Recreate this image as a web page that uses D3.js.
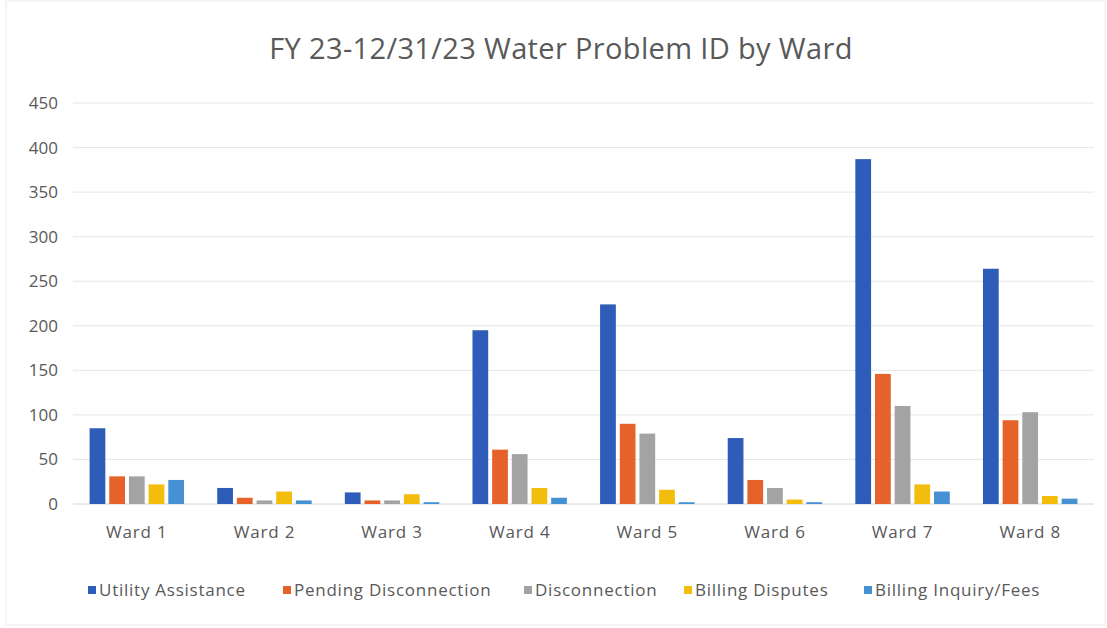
<!DOCTYPE html>
<html>
<head>
<meta charset="utf-8">
<script src="https://cdn.jsdelivr.net/npm/d3@7"></script>
<style>
      body { margin: 0; background: #fff; }
      text { font-family: "Open Sans", "Noto Sans", sans-serif; fill: #595959; }
</style>
</head>
<body>
<div id="chart"></div>
<script>
//data
const wards = ['Ward 1', 'Ward 2', 'Ward 3', 'Ward 4', 'Ward 5', 'Ward 6', 'Ward 7', 'Ward 8'];
const seriesNames = ['Utility Assistance', 'Pending Disconnection', 'Disconnection', 'Billing Disputes', 'Billing Inquiry/Fees'];
const utilityAssistance = [85, 18, 13, 195, 224, 74, 387, 264];
const pendingDisconnection = [31, 7, 4, 61, 90, 27, 146, 94];
const disconnection = [31, 4, 4, 56, 79, 18, 110, 103];
const billingDisputes = [22, 14, 11, 18, 16, 5, 22, 9];
const billingInquiry = [27, 4, 2, 7, 2, 2, 14, 6];
const yTicks = [0, 50, 100, 150, 200, 250, 300, 350, 400, 450];
const colors = ['#2d5db8', '#e5622a', '#a3a3a3', '#f2bd0c', '#4690d4'];

const seriesValues = [utilityAssistance, pendingDisconnection, disconnection, billingDisputes, billingInquiry];
//one row per ward for the grouped bars
const rows = wards.map((w, i) => ({
      ward: w,
      values: seriesNames.map((s, j) => ({ key: s, value: seriesValues[j][i], idx: j }))
}));

const w = 1107;
const h = 628;
const plotLeft = 73, plotRight = 1094, plotTop = 103, plotBottom = 504;

const svg = d3.select('#chart')
      .append('svg')
      .attr('width', w)
      .attr('height', h);

//faint frame of the chart area
svg.append('rect')
      .attr('x', 6)
      .attr('y', 1)
      .attr('width', w - 8)
      .attr('height', h - 4)
      .style('fill', 'none')
      .style('stroke', '#ececec');

//title
svg.append('text')
      .text('FY 23-12/31/23 Water Problem ID by Ward')
      .attr('x', 561)
      .attr('y', 59)
      .attr('text-anchor', 'middle')
      .style('font-size', '29px')
      .style('letter-spacing', '0.35px');

//scales
const x0 = d3.scaleBand()
      .domain(wards)
      .range([plotLeft, plotRight])
      .paddingInner(0.26)
      .paddingOuter(0.13);

const x1 = d3.scaleBand()
      .domain(seriesNames)
      .range([0, x0.bandwidth()])
      .paddingInner(0.2);

const y = d3.scaleLinear()
      .domain([0, 450])
      .range([plotBottom, plotTop]);

//gridlines
svg.append('g')
      .selectAll('line')
      .data(yTicks)
      .enter()
      .append('line')
      .attr('x1', plotLeft)
      .attr('x2', plotRight)
      .attr('y1', (d) => y(d))
      .attr('y2', (d) => y(d))
      .style('stroke', (d) => d === 0 ? '#d4d4d4' : '#e6e6e6')
      .style('stroke-width', 1);

//y axis labels, no axis line
const yAxis = svg.append('g')
      .attr('transform', `translate(${plotLeft - 15},0)`)
      .call(d3.axisLeft(y).tickValues(yTicks).tickSize(0).tickPadding(0));
yAxis.select('.domain').remove();
yAxis.selectAll('text')
      .style('font-size', '17px')
      .style('font-family', '"Open Sans", sans-serif')
      .attr('fill', '#595959');

//x axis labels
const xAxis = svg.append('g')
      .attr('transform', `translate(0,${plotBottom + 22})`)
      .call(d3.axisBottom(x0).tickSize(0).tickPadding(0));
xAxis.select('.domain').remove();
xAxis.selectAll('text')
      .attr('dy', '0.71em')
      .style('font-size', '17px')
      .style('letter-spacing', '0.8px')
      .style('font-family', '"Open Sans", sans-serif')
      .attr('fill', '#595959');

//bars
const groups = svg.selectAll('.ward')
      .data(rows)
      .enter()
      .append('g')
      .attr('class', 'ward')
      .attr('transform', (d) => `translate(${x0(d.ward)},0)`);

groups.selectAll('rect')
      .data((d) => d.values)
      .enter()
      .append('rect')
      .attr('x', (d) => x1(d.key))
      .attr('y', (d) => y(d.value))
      .attr('width', x1.bandwidth())
      .attr('height', (d) => y(0) - y(d.value))
      .style('fill', (d) => colors[d.idx])
      .append('title')
      .text((d) => `${d.key}: ${d.value}`);

//legend
const legendX = [88, 283, 524, 684, 864];
const legend = svg.selectAll('.legend')
      .data(seriesNames)
      .enter()
      .append('g')
      .attr('class', 'legend')
      .attr('transform', (d, i) => `translate(${legendX[i]},590)`);

legend.append('rect')
      .attr('x', 0)
      .attr('y', -4)
      .attr('width', 8)
      .attr('height', 8)
      .style('fill', (d, i) => colors[i]);

legend.append('text')
      .text((d) => d)
      .attr('x', 11)
      .attr('y', 0)
      .attr('dy', '0.35em')
      .style('font-size', '17px')
      .style('letter-spacing', '0.75px');
</script>
</body>
</html>
